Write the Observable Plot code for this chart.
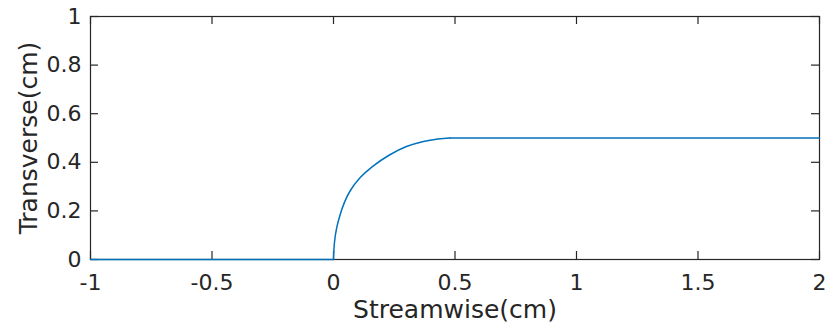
<!DOCTYPE html>
<html>
<head>
<meta charset="utf-8">
<script src="https://cdn.jsdelivr.net/npm/d3@7"></script>
<script src="https://cdn.jsdelivr.net/npm/@observablehq/plot@0.6"></script>
<style>
  html, body { margin: 0; padding: 0; background: #fff; }
  #chart svg { display: block; }
</style>
</head>
<body>
<div id="chart"></div>
<script>
// Wall profile in three pieces: upstream flat, quarter-round rise, downstream flat
const upstreamX = [-1, 0];
const upstreamY = [0, 0];
const riseX = [0, 0.004, 0.012, 0.026, 0.045, 0.07, 0.11, 0.16, 0.23, 0.3, 0.37, 0.43, 0.48];
const riseY = [0, 0.07, 0.125, 0.18, 0.235, 0.285, 0.337, 0.382, 0.43, 0.465, 0.486, 0.496, 0.5];
const downstreamX = [0.48, 2];
const downstreamY = [0.5, 0.5];

// Axis ticks and their labels
const xTicks = [-1, -0.5, 0, 0.5, 1, 1.5, 2];
const xTickLabels = ["-1", "-0.5", "0", "0.5", "1", "1.5", "2"];
const yTicks = [0, 0.2, 0.4, 0.6, 0.8, 1];
const yTickLabels = ["0", "0.2", "0.4", "0.6", "0.8", "1"];

const xTitle = "Streamwise(cm)";
const yTitle = "Transverse(cm)";

const width = 828, height = 328;
const margin = {top: 16, right: 9, bottom: 69, left: 90};
const plotW = width - margin.left - margin.right;
const plotH = height - margin.top - margin.bottom;
const tickLen = 8;
const ink = "#262626";
const lineColor = "#0072BD";
const font = "DejaVu Sans, sans-serif";

const pts = (xs, ys) => xs.map((x, i) => ({x, y: ys[i]}));
const profileLine = (data, curve) =>
  Plot.line(data, {x: "x", y: "y", stroke: lineColor, strokeWidth: 1.5, curve});

const chart = Plot.plot({
  width, height,
  marginTop: margin.top, marginRight: margin.right,
  marginBottom: margin.bottom, marginLeft: margin.left,
  style: {fontFamily: font, color: ink, background: "#fff"},
  x: {domain: [-1, 2]},
  y: {domain: [0, 1]},
  marks: [
    Plot.frame({stroke: ink, strokeWidth: 1.2}),
    // inward ticks on all four sides
    Plot.tickX(xTicks, {x: d => d, stroke: ink, strokeWidth: 1.2, insetTop: plotH - tickLen}),
    Plot.tickX(xTicks, {x: d => d, stroke: ink, strokeWidth: 1.2, insetBottom: plotH - tickLen}),
    Plot.tickY(yTicks, {y: d => d, stroke: ink, strokeWidth: 1.2, insetRight: plotW - tickLen}),
    Plot.tickY(yTicks, {y: d => d, stroke: ink, strokeWidth: 1.2, insetLeft: plotW - tickLen}),
    Plot.axisX(xTicks, {
      tickSize: 0, tickPadding: 15, fontSize: 22, fill: ink,
      tickFormat: (d) => xTickLabels[xTicks.indexOf(d)], label: null
    }),
    Plot.axisY(yTicks, {
      tickSize: 0, tickPadding: 9, fontSize: 22, fill: ink,
      tickFormat: (d) => yTickLabels[yTicks.indexOf(d)], label: null
    }),
    Plot.text([xTitle], {
      text: d => d, frameAnchor: "bottom", lineAnchor: "top", textAnchor: "middle", dy: 41,
      fontSize: 25, fill: ink
    }),
    Plot.text([yTitle], {
      text: d => d, frameAnchor: "left", lineAnchor: "middle", textAnchor: "middle",
      rotate: -90, dx: -62, fontSize: 25, fill: ink
    }),
    profileLine(pts(upstreamX, upstreamY), "linear"),
    profileLine(pts(riseX, riseY), "catmull-rom"),
    profileLine(pts(downstreamX, downstreamY), "linear")
  ]
});

document.getElementById("chart").append(chart);
</script>
</body>
</html>
